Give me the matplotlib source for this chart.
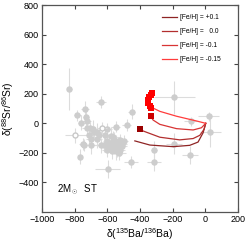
import numpy as np
import matplotlib
matplotlib.use("Agg")
import matplotlib.pyplot as plt

plt.rcParams['font.family'] = ['Liberation Sans', 'DejaVu Sans']
plt.rcParams['mathtext.fontset'] = 'custom'
plt.rcParams['mathtext.rm'] = 'Liberation Sans'
plt.rcParams['mathtext.it'] = 'Liberation Sans:italic'

# grain data: delta(135Ba/136Ba), delta(88Sr/86Sr) with errors
ba = [-833, -641, -483, -452, -191, -91, 21, 31, -193, -96, -314, -314, -456,
      -599, -768, -784, -739, -731, -723, -760, -723, -707, -690, -715, -666,
      -654, -703, -662, -752, -742, -701, -640, -617, -601, -581, -560, -550,
      -580, -560, -540, -530, -520, -510, -499, -550, -530, -520, -601, -591,
      -621, -570, -545, -565, -510, -600, -680]
ba_err = [15, 30, 30, 20, 125, 40, 65, 65, 50, 50, 20, 45, 45,
          75, 15, 20, 25, 20, 25, 20, 30, 25, 20, 30, 30,
          25, 25, 30, 20, 25, 30, 40, 25, 30, 35, 40, 30,
          30, 35, 40, 30, 35, 30, 25, 40, 45, 30, 35, 30,
          40, 30, 30, 35, 30, 30, 25]
sr = [232, 143, -10, 78, 176, 15, 48, -57, -138, -214, -182, -265, -259,
      -310, -225, 53, 98, 45, 16, 5, -29, -29, -40, -80, -60,
      -80, -104, -104, -138, -144, -149, -149, -80, -40, -87, -111, -22,
      -133, -155, -167, -133, -111, -155, -122, -189, -200, -178, -178, -155,
      -144, -189, -120, -95, -140, -120, -60]
sr_err = [145, 40, 40, 50, 110, 30, 30, 100, 70, 60, 60, 60, 40,
          60, 50, 40, 50, 60, 40, 50, 50, 40, 60, 50, 60,
          40, 50, 60, 40, 40, 60, 50, 40, 40, 60, 50, 40,
          40, 50, 60, 40, 40, 50, 40, 60, 50, 40, 50, 40,
          50, 50, 40, 40, 40, 50, 40]
open_ba = [-798, -635]
open_sr = [-81, -30]
open_ba_err = [60, 30]
open_sr_err = [50, 40]

# model tracks, 2 Msun, standard 13C pocket
labels = ['[Fe/H] = +0.1', '[Fe/H] =   0.0', '[Fe/H] = -0.1', '[Fe/H] = -0.15']
colors = ['#8e2424', '#b22e2e', '#d83434', '#ff3c3c']
trk_ba = [
    [2, -14, -45, -96, -197, -340, -432],
    [2, -8, -34, -75, -157, -279, -381, -401],
    [2, -24, -75, -177, -279, -320, -336],
    [2, -55, -177, -279, -320, -330],
]
trk_sr = [
    [0, -64, -127, -149, -158, -147, -119],
    [0, -40, -81, -103, -112, -94, -52, -41],
    [0, -30, -45, -36, -7, 22, 49],
    [0, 16, 48, 81, 103, 105],
]
# C/O > 1 parts of the tracks
co_ba = [[], [-401], [-336], [-330, -342, -350, -351, -346, -336, -325]]
co_sr = [[], [-41], [49], [105, 118, 135, 155, 175, 192, 205]]
co_colors = ['#8e0000', '#9a0000', '#cc0000', '#ff0000']

fig = plt.figure(figsize=(2.49, 2.42), dpi=100)
ax = fig.add_axes([0.169, 0.124, 0.787, 0.855])

ax.errorbar(ba, sr, xerr=ba_err, yerr=sr_err, fmt='o', ms=3.6, color='#cdcdcd',
            ecolor='#dcdcdc', elinewidth=0.8, capsize=0, zorder=1)
ax.errorbar(open_ba, open_sr, xerr=open_ba_err, yerr=open_sr_err, fmt='o', ms=3.6,
            mfc='white', mec='#c8c8c8', ecolor='#dcdcdc', elinewidth=0.8,
            capsize=0, zorder=2)

for i in range(4):
    ax.plot(trk_ba[i], trk_sr[i], color=colors[i], lw=0.9, label=labels[i], zorder=3)
    if co_ba[i]:
        ax.plot(co_ba[i], co_sr[i], 's', color=co_colors[i], ms=4.2, mew=0, zorder=4)

ax.text(-910, -450, r'2M$_\odot$  ST', fontsize=7, va='center')

ax.set_xlim(-1000, 200)
ax.set_ylim(-600, 800)
ax.set_xticks(np.arange(-1000, 201, 200))
ax.set_yticks(np.arange(-400, 801, 200))
ax.set_xticklabels(['\u22121000', '\u2212800', '\u2212600', '\u2212400', '\u2212200', '0', '200'])
ax.set_yticklabels(['\u2212400', '\u2212200', '0', '200', '400', '600', '800'])
ax.tick_params(direction='in', length=3, width=0.8, labelsize=6.5, colors='#444444',
               labelcolor='black', top=True, right=True, pad=2.5)
for s in ax.spines.values():
    s.set_color('#555555')
    s.set_linewidth(0.9)

ax.set_xlabel('\u03b4($^{135}$Ba/$^{136}$Ba)', fontsize=7.5, labelpad=1)
ax.set_ylabel('\u03b4($^{88}$Sr/$^{86}$Sr)', fontsize=7.5, labelpad=2)

ax.legend(loc='upper left', bbox_to_anchor=(0.58, 0.985), frameon=False, fontsize=4.8,
          handlelength=2.3, labelspacing=1.05, handletextpad=0.5)

fig.savefig('out.png', dpi=100)
